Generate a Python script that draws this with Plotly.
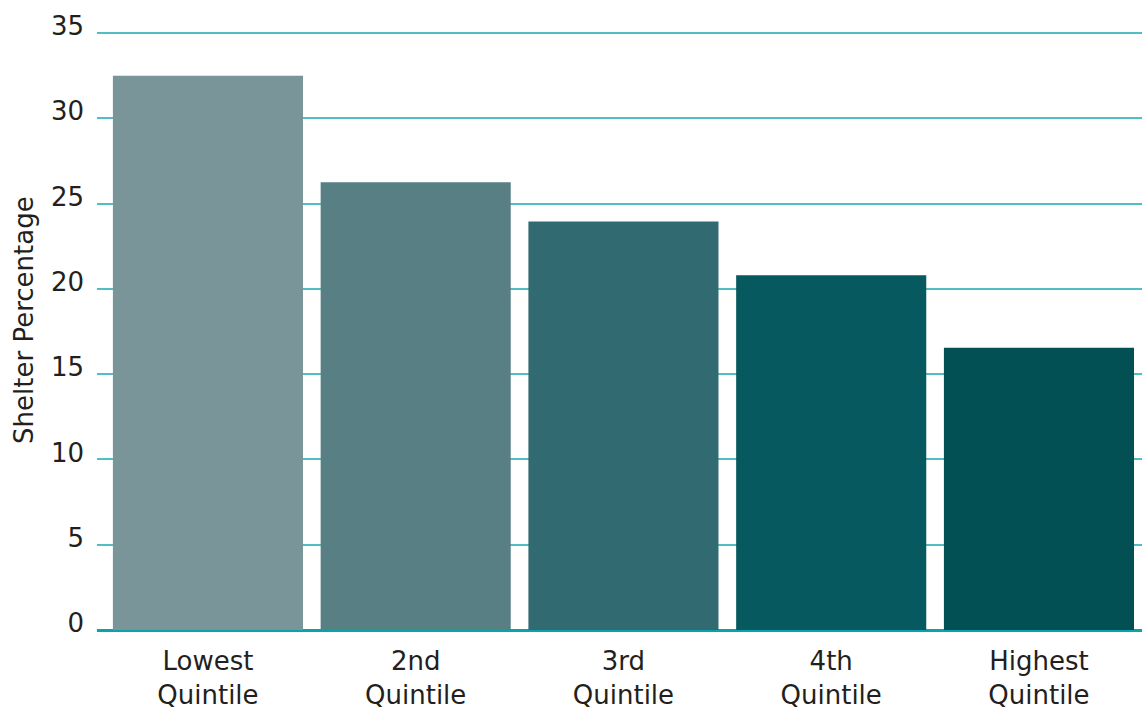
import plotly.graph_objects as go

categories = ["Lowest<br>Quintile", "2nd<br>Quintile", "3rd<br>Quintile", "4th<br>Quintile", "Highest<br>Quintile"]
shelter_pct = [32.5, 26.25, 23.95, 20.8, 16.55]
bar_colors = ["#7a9599", "#577f84", "#316a70", "#06595e", "#024f54"]
y_ticks = [0, 5, 10, 15, 20, 25, 30, 35]
y_title = "Shelter Percentage"

fig = go.Figure(go.Bar(
    x=list(range(len(categories))),
    y=shelter_pct,
    marker=dict(color=bar_colors, line=dict(width=0)),
    width=0.915,
))

font_family = "DejaVu Sans, Verdana, sans-serif"
fig.update_layout(
    width=1142, height=710,
    margin=dict(l=97, r=0, t=31, b=80),
    plot_bgcolor="white", paper_bgcolor="white",
    showlegend=False,
    font=dict(family=font_family, size=26, color="#231f20"),
    xaxis=dict(
        tickmode="array", tickvals=list(range(len(categories))), ticktext=categories,
        range=[-0.534, 4.496], showgrid=False, zeroline=False,
        showline=False, ticks="", tickfont=dict(size=26), ticklabelstandoff=13,
    ),
    yaxis=dict(
        range=[0, 35.12], tickvals=y_ticks, showgrid=True, gridcolor="#4fbfc5", gridwidth=1.5,
        zeroline=True, zerolinecolor="#0aa3ab", zerolinewidth=2.5,
        ticks="", ticklabelstandoff=12, ticklabelshift=-7,
        tickfont=dict(size=26),
    ),
    annotations=[dict(
        text=y_title, textangle=-90, showarrow=False,
        xref="paper", yref="paper", x=-0.0699, y=0.5176,
        xanchor="center", yanchor="middle", font=dict(size=26),
    )],
)

fig.write_html("out.html")
